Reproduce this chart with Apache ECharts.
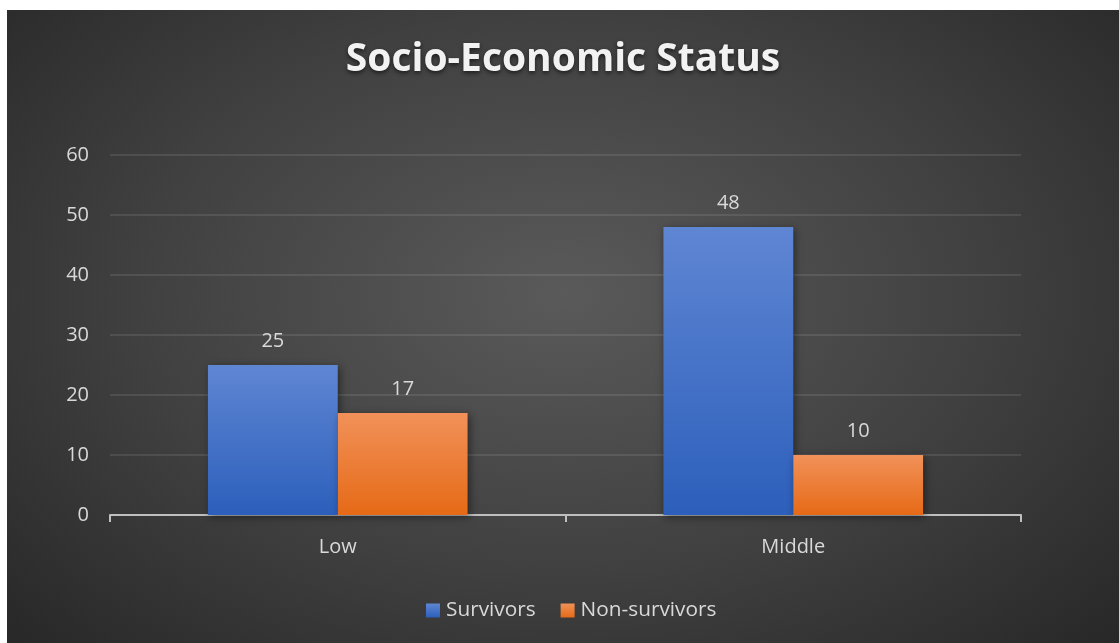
<!DOCTYPE html>
<html>
<head>
<meta charset="utf-8">
<script src="https://cdn.jsdelivr.net/npm/echarts@6/dist/echarts.min.js"></script>
<style>
  html, body { margin: 0; padding: 0; background: #ffffff; }
  #chart {
    position: absolute; left: 7px; top: 10px; width: 1112px; height: 633px;
    background: radial-gradient(ellipse 70% 80% at 50% 45%, #5a5a5a 0%, #404040 55%, #272727 100%);
  }
</style>
</head>
<body>
<div id="chart"></div>
<script>
// Socio-economic status of survivors vs non-survivors
const categories = ['Low', 'Middle'];
const survivors = [25, 48];
const nonSurvivors = [17, 10];
const yTicks = { min: 0, max: 60, interval: 10 };

const chart = echarts.init(document.getElementById('chart'));

function vGrad(top, bottom) {
  return new echarts.graphic.LinearGradient(0, 0, 0, 1, [
    { offset: 0, color: top },
    { offset: 1, color: bottom }
  ]);
}

const labelStyle = {
  show: true,
  position: 'top',
  distance: 14,
  color: '#d9d9d9',
  fontSize: 20,
  fontFamily: 'Open Sans'
};

chart.setOption({
  backgroundColor: 'transparent',
  animation: false,
  title: {
    text: 'Socio-Economic Status',
    left: 'center',
    top: 25,
    textStyle: {
      color: '#f2f2f2',
      fontSize: 39,
      fontWeight: 'bold',
      fontFamily: 'Open Sans',
      textShadowColor: 'rgba(0,0,0,0.6)',
      textShadowBlur: 4,
      textShadowOffsetY: 2
    }
  },
  legend: {
    bottom: 17,
    left: 414,
    itemWidth: 14,
    itemHeight: 14,
    itemGap: 25,
    icon: 'rect',
    textStyle: { color: '#d9d9d9', fontSize: 20.8, fontFamily: 'Open Sans', padding: [0, 0, 0, 1] },
    data: ['Survivors', 'Non-survivors']
  },
  grid: { left: 103, right: 98, top: 145, bottom: 128, containLabel: false },
  xAxis: {
    type: 'category',
    data: categories,
    axisLine: { lineStyle: { color: '#bfbfbf', width: 2 } },
    axisTick: { show: true, length: 7, lineStyle: { color: '#bfbfbf', width: 2 } },
    axisLabel: { color: '#d9d9d9', fontSize: 20, fontFamily: 'Open Sans', margin: 22 }
  },
  yAxis: {
    type: 'value',
    min: yTicks.min,
    max: yTicks.max,
    interval: yTicks.interval,
    axisLine: { show: false },
    axisTick: { show: false },
    axisLabel: { color: '#d9d9d9', fontSize: 20, fontFamily: 'Open Sans', margin: 21 },
    splitLine: { lineStyle: { color: 'rgba(255,255,255,0.13)', width: 1.5 } }
  },
  series: [
    {
      name: 'Survivors',
      type: 'bar',
      data: survivors,
      barGap: '0%',
      barCategoryGap: '43%',
      itemStyle: {
        color: vGrad('#5f86d3', '#2c5fbb'),
        shadowColor: 'rgba(0,0,0,0.45)',
        shadowBlur: 8,
        shadowOffsetX: 2,
        shadowOffsetY: 2
      },
      label: labelStyle
    },
    {
      name: 'Non-survivors',
      type: 'bar',
      data: nonSurvivors,
      itemStyle: {
        color: vGrad('#f19159', '#e66a16'),
        shadowColor: 'rgba(0,0,0,0.45)',
        shadowBlur: 8,
        shadowOffsetX: 2,
        shadowOffsetY: 2
      },
      label: labelStyle
    }
  ]
});
</script>
</body>
</html>
